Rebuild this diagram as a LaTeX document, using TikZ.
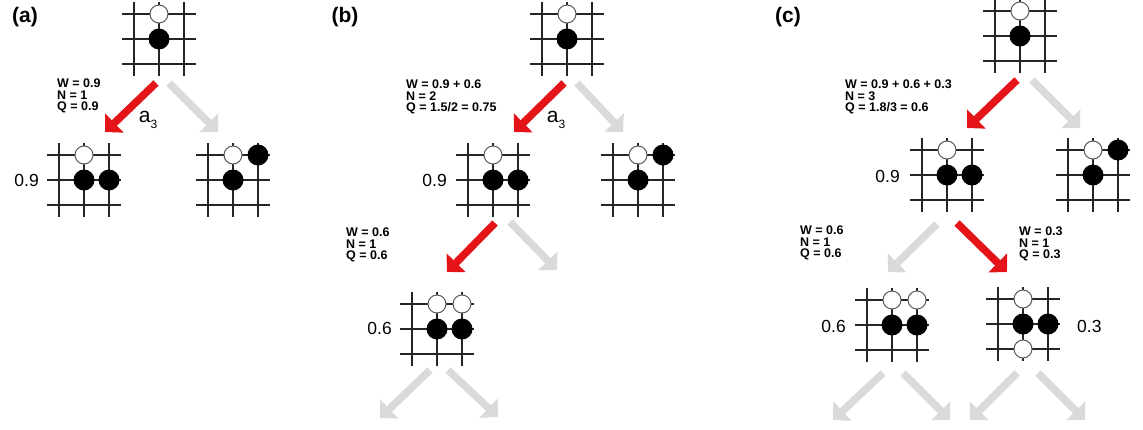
\documentclass[tikz,border=0pt]{standalone}
\usepackage{fontspec}
\setmainfont{Liberation Sans}
\usetikzlibrary{arrows.meta}
\definecolor{movered}{RGB}{228,20,24}
\definecolor{movegrey}{RGB}{218,218,218}

\begin{document}
\begin{tikzpicture}[x=1pt, y=-1pt,
    board/.style={minimum size=74pt, inner sep=0pt, path picture={
      \foreach \d in {-25,0,25} {
        \draw[black!85, line width=1.5pt] ([xshift=\d pt]path picture bounding box.north) -- ([xshift=\d pt]path picture bounding box.south);
        \draw[black!85, line width=1.5pt] ([yshift=\d pt]path picture bounding box.west) -- ([yshift=\d pt]path picture bounding box.east);
      }}},
    wstone/.style={draw=black!65, fill=white, line width=1pt},
    bstone/.style={fill=black},
    move/.style={line width=7.5pt, -{Triangle[length=13pt, width=26pt]}},
    redmove/.style={move, draw=movered},
    greymove/.style={move, draw=movegrey},
    stats/.style={align=left, anchor=west, inner sep=0pt, font=\fontsize{12.5}{11.5}\selectfont\bfseries},
    value/.style={inner sep=0pt, font=\fontsize{17.5}{20}\selectfont},
    action/.style={inner sep=0pt, font=\fontsize{21}{24}\selectfont},
    panel/.style={inner sep=0pt, font=\fontsize{21}{24}\selectfont\bfseries}]
  \useasboundingbox (0,0) rectangle (1143,429);

  % Panel labels
  \node[panel] (pa) at (25,17) {(a)};
  \node[panel] (pb) at (345,17) {(b)};
  \node[panel] (pc) at (788,17) {(c)};

  % Panel (a): selection
  \node[board] (a0) at (159,39) {};
  \node[board] (a1) at (84,180) {};
  \node[board] (a2) at (233,180) {};
  \draw[redmove] ([shift={(-3,44)}]a0.center) -- ([shift={(21,-48)}]a1.center);
  \draw[greymove] ([shift={(10,44)}]a0.center) -- ([shift={(-15,-48)}]a2.center);
  \node[stats] (sa0) at (57,96) {W = 0.9\\N = 1\\Q = 0.9};
  \node[action] (ma) at (148,120) {a\raisebox{-0.3em}{\fontsize{12}{12}\selectfont 3}};
  \node[value, anchor=east] (va1) at (39,180) {0.9};

  % Panel (b): expansion
  \node[board] (b0) at (567,39) {};
  \node[board] (b1) at (493,180) {};
  \node[board] (b2) at (638,180) {};
  \node[board] (b3) at (437,329) {};
  \draw[redmove] ([shift={(-3,44)}]b0.center) -- ([shift={(21,-48)}]b1.center);
  \draw[greymove] ([shift={(10,44)}]b0.center) -- ([shift={(-15,-48)}]b2.center);
  \draw[redmove] ([shift={(2,43)}]b1.center) -- ([shift={(10,-57)}]b3.center);
  \draw[greymove] ([shift={(17,42)}]b1.center) -- ++(47,48);
  \draw[greymove] ([shift={(-7,41)}]b3.center) -- ++(-50,48);
  \draw[greymove] ([shift={(11,41)}]b3.center) -- ++(50,47);
  \node[stats] (sb0) at (406,97) {W = 0.9 + 0.6\\N = 2\\Q = 1.5/2 = 0.75};
  \node[stats] (sb1) at (346,245) {W = 0.6\\N = 1\\Q = 0.6};
  \node[action] (mb) at (556,120) {a\raisebox{-0.3em}{\fontsize{12}{12}\selectfont 3}};
  \node[value, anchor=east] (vb1) at (447,180) {0.9};
  \node[value, anchor=east] (vb3) at (392,328) {0.6};

  % Panel (c): backup
  \node[board] (c0) at (1020,36) {};
  \node[board] (c1) at (947,175) {};
  \node[board] (c2) at (1093,175) {};
  \node[board] (c3) at (892,325) {};
  \node[board] (c4) at (1023,324) {};
  \draw[redmove] ([shift={(-3,44)}]c0.center) -- ([shift={(20,-47)}]c1.center);
  \draw[greymove] ([shift={(12,44)}]c0.center) -- ([shift={(-13,-47)}]c2.center);
  \draw[greymove] ([shift={(-10,49)}]c1.center) -- ([shift={(-4,-53)}]c3.center);
  \draw[redmove] ([shift={(10,48)}]c1.center) -- ([shift={(-16,-52)}]c4.center);
  \draw[greymove] ([shift={(-9,48)}]c3.center) -- ++(-50,47);
  \draw[greymove] ([shift={(11,48)}]c3.center) -- ++(47,47);
  \draw[greymove] ([shift={(-6,49)}]c4.center) -- ++(-47,47);
  \draw[greymove] ([shift={(15,49)}]c4.center) -- ++(47,47);
  \node[stats] (sc0) at (845,97) {W = 0.9 + 0.6 + 0.3\\N = 3\\Q = 1.8/3 = 0.6};
  \node[stats] (sc3) at (800,243) {W = 0.6\\N = 1\\Q = 0.6};
  \node[stats] (sc4) at (1019,244) {W = 0.3\\N = 1\\Q = 0.3};
  \node[value, anchor=east] (vc1) at (900,176) {0.9};
  \node[value, anchor=east] (vc3) at (846,326) {0.6};
  \node[value, anchor=west] (vc4) at (1077,326) {0.3};

  % Stones: every board has these two
  \foreach \b in {a0,a1,a2,b0,b1,b2,b3,c0,c1,c2,c3,c4} {
    \draw[wstone] ([yshift=25pt]\b.center) circle[radius=9];
    \fill[bstone] (\b.center) circle[radius=10.5];
  }
  \foreach \b in {a1,b1,b3,c1,c3,c4} {
    \fill[bstone] ([xshift=25pt]\b.center) circle[radius=10.5];
  }
  \foreach \b in {a2,b2,c2} {
    \fill[bstone] ([shift={(25pt,25pt)}]\b.center) circle[radius=10.5];
  }
  \foreach \b in {b3,c3} {
    \draw[wstone] ([shift={(25pt,25pt)}]\b.center) circle[radius=9];
  }
  \draw[wstone] ([yshift=-25pt]c4.center) circle[radius=9];
\end{tikzpicture}
\end{document}
